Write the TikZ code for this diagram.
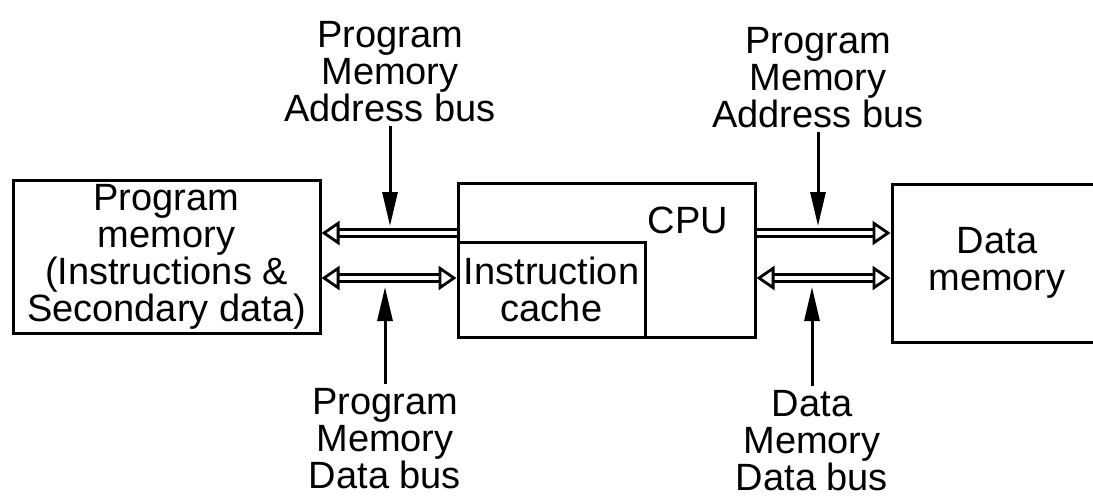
\documentclass[tikz,border=0pt]{standalone}
\usepackage{fontspec}
\setmainfont{Liberation Sans}
\usetikzlibrary{arrows.meta,positioning}

\begin{document}
\begin{tikzpicture}[
    x=0.5pt, y=-0.5pt,
    every node/.style={font=\fontsize{19}{18.5}\selectfont, align=center, inner sep=2pt},
    box/.style={draw, line width=1.5pt},
    bus/.style={double, double distance=2pt, line width=1.4pt},
    onetip/.style={-{Triangle[open,length=9pt,width=12pt]}},
    twotip/.style={{Triangle[open,length=9pt,width=12pt]}-{Triangle[open,length=9pt,width=12pt]}},
    sig/.style={-{Triangle[length=17pt,width=7.5pt]}, line width=1.5pt}
]
\useasboundingbox (0,0) rectangle (1093,499);
\clip (0,0) rectangle (1093,499);

% rows of the buses and of the arrow tips
\coordinate (upbus) at (0,233);
\coordinate (lobus) at (0,278);
\coordinate (uptip) at (0,226);
\coordinate (lotip) at (0,287);

\node[box, minimum width=153.5pt, minimum height=76pt] (PM) at (166.5,257)
    {Program\\memory\\(Instructions \&\\Secondary data)};
\node[box, minimum width=148.5pt, minimum height=77pt] (CPU) at (606.5,260) {};
\node (CPUlbl) at (688,220) {CPU};
\node[box, minimum width=93.5pt, minimum height=47.5pt] (IC) at (551.5,289.5)
    {Instruction\\cache};
\node[box, minimum width=105pt, minimum height=79pt] (DM) at (997,263)
    {Data\\memory};

\node[anchor=south] (PMAB) at (390,126) {Program\\Memory\\Address bus};
\node[anchor=south] (DMAB) at (818,132) {Program\\Memory\\Address bus};
\node[anchor=north] (PMDB) at (385,384) {Program\\Memory\\Data bus};
\node[anchor=north] (DMDB) at (812,386) {Data\\Memory\\Data bus};

\draw[bus, onetip] (CPU.west |- upbus) -- (PM.east |- upbus);
\draw[bus, twotip] (PM.east |- lobus) -- (IC.west |- lobus);
\draw[bus, onetip] (CPU.east |- upbus) -- (DM.west |- upbus);
\draw[bus, twotip] (CPU.east |- lobus) -- (DM.west |- lobus);

\draw[sig] (PMAB) -- (PMAB |- uptip);
\draw[sig] (PMDB) -- (PMDB |- lotip);
\draw[sig] (DMAB) -- (DMAB |- uptip);
\draw[sig] (DMDB) -- (DMDB |- lotip);

\end{tikzpicture}
\end{document}
